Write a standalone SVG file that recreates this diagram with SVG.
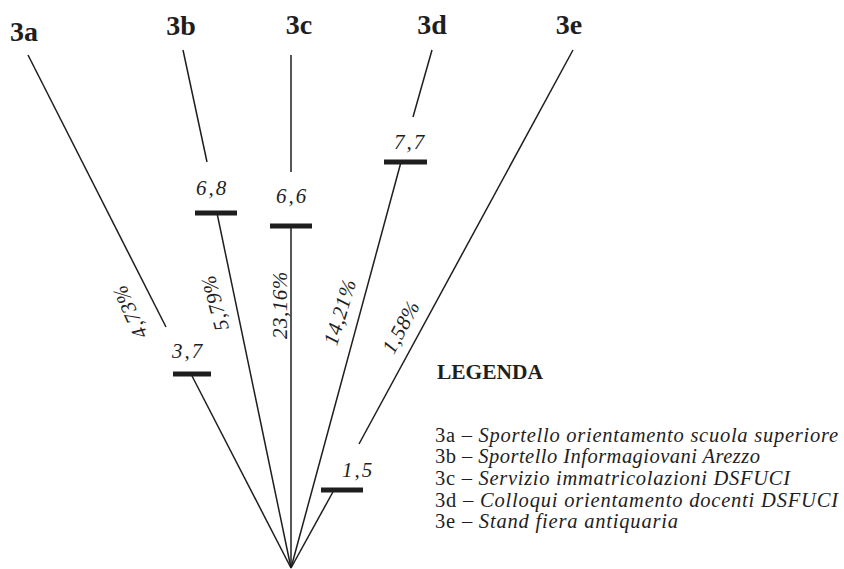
<svg xmlns="http://www.w3.org/2000/svg" width="844" height="569" viewBox="0 0 844 569">
<style>
.ln{stroke:#1e1e1e;stroke-width:1.5;fill:none}
.bar{stroke:#1e1e1e;stroke-width:5}
.hd{font-family:"Liberation Serif","Times New Roman",serif;font-weight:bold;font-size:28px;fill:#1e1e1e;text-anchor:middle}
.val{font-family:"Liberation Serif","Times New Roman",serif;font-style:italic;font-size:21px;fill:#1e1e1e;text-anchor:middle;letter-spacing:2px}
.pct{font-family:"Liberation Serif","Times New Roman",serif;font-style:italic;font-size:21px;fill:#1e1e1e;text-anchor:middle;dominant-baseline:central;letter-spacing:0.5px}
.lg{font-family:"Liberation Serif","Times New Roman",serif;font-size:20.5px;fill:#1e1e1e}
.it{font-style:italic}
</style>
<rect width="844" height="569" fill="#fff"/>
<g id="connectors">
<line class="ln" x1="28" y1="55" x2="166" y2="327"/>
<line class="ln" x1="191" y1="374" x2="291" y2="568"/>
<line class="ln" x1="183" y1="50" x2="207" y2="162"/>
<line class="ln" x1="217" y1="213" x2="291" y2="568"/>
<line class="ln" x1="291" y1="55" x2="291" y2="172"/>
<line class="ln" x1="291" y1="226" x2="291" y2="568"/>
<line class="ln" x1="432" y1="50" x2="413" y2="117"/>
<line class="ln" x1="401" y1="162" x2="291" y2="568"/>
<line class="ln" x1="573" y1="50" x2="359" y2="444"/>
<line class="ln" x1="334" y1="490" x2="291" y2="568"/>
<text class="pct" transform="translate(130,312) rotate(-114)">4,73%</text>
<text class="pct" transform="translate(215,303) rotate(-105)">5,79%</text>
<text class="pct" transform="translate(280,305) rotate(-90)">23,16%</text>
<text class="pct" transform="translate(340,312) rotate(-73)">14,21%</text>
<text class="pct" transform="translate(401,327) rotate(-62)">1,58%</text>
</g>
<g id="node-3a">
<text class="hd" x="24" y="41">3a</text>
<line class="bar" x1="173" y1="374" x2="211" y2="374"/>
<text class="val" x="188" y="358">3,7</text>
</g>
<g id="node-3b">
<text class="hd" x="181" y="35">3b</text>
<line class="bar" x1="195" y1="213" x2="237" y2="213"/>
<text class="val" x="212" y="195">6,8</text>
</g>
<g id="node-3c">
<text class="hd" x="299" y="34">3c</text>
<line class="bar" x1="270" y1="226" x2="312" y2="226"/>
<text class="val" x="292" y="203">6,6</text>
</g>
<g id="node-3d">
<text class="hd" x="432" y="34">3d</text>
<line class="bar" x1="384" y1="162" x2="427" y2="162"/>
<text class="val" x="410" y="149">7,7</text>
</g>
<g id="node-3e">
<text class="hd" x="569" y="34">3e</text>
<line class="bar" x1="321" y1="490" x2="363" y2="490"/>
<text class="val" x="358" y="477">1,5</text>
</g>
<g id="legend">
<text class="lg" x="437" y="379" font-weight="bold" textLength="106" lengthAdjust="spacingAndGlyphs">LEGENDA</text>
<text class="lg" x="435" y="442" textLength="403" lengthAdjust="spacing">3a – <tspan class="it">Sportello orientamento scuola superiore</tspan></text>
<text class="lg" x="435" y="463" textLength="325" lengthAdjust="spacing">3b – <tspan class="it">Sportello Informagiovani Arezzo</tspan></text>
<text class="lg" x="435" y="485" textLength="355" lengthAdjust="spacing">3c – <tspan class="it">Servizio immatricolazioni DSFUCI</tspan></text>
<text class="lg" x="435" y="507" textLength="403" lengthAdjust="spacing">3d – <tspan class="it">Colloqui orientamento docenti DSFUCI</tspan></text>
<text class="lg" x="435" y="528" textLength="243" lengthAdjust="spacing">3e – <tspan class="it">Stand fiera antiquaria</tspan></text>
</g>
</svg>
